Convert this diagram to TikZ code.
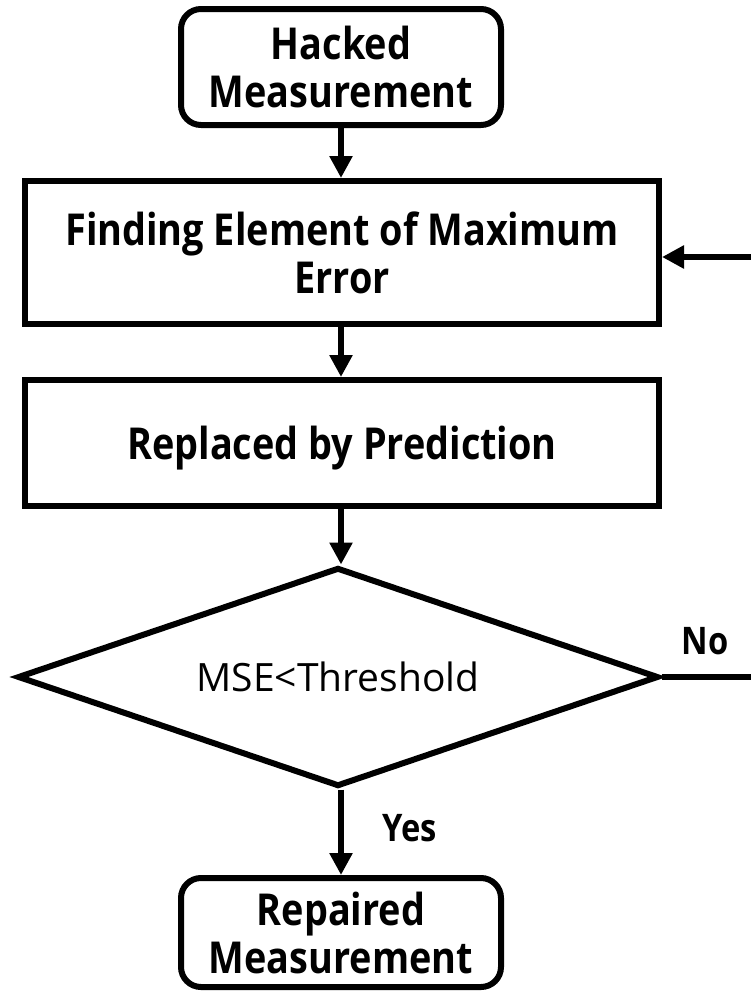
\documentclass[tikz,border=0pt]{standalone}
\usepackage{fontspec}
\setmainfont{Open Sans}
\newfontfamily\boxfont{Open Sans}[FakeStretch=0.86]
\usetikzlibrary{shapes.geometric,arrows.meta}
\tikzset{
  flow/.style={line width=6pt, draw=black},
  term/.style={flow, rounded corners=20pt, align=center, text depth=0pt, font=\boxfont\bfseries\fontsize{44}{48}\selectfont, inner sep=0pt},
  proc/.style={flow, align=center, text depth=0pt, font=\boxfont\bfseries\fontsize{44}{48}\selectfont, inner sep=0pt},
  decide/.style={flow, diamond, aspect=2.93, inner sep=0pt, font=\fontsize{39}{44}\selectfont},
  arr/.style={line width=6pt, -{Triangle[width=22pt,length=22pt]}},
  lbl/.style={font=\boxfont\bfseries\fontsize{38}{44}\selectfont, inner sep=0pt}
}
\begin{document}
\begin{tikzpicture}[x=1pt,y=-1pt]
  \useasboundingbox (0,0) rectangle (751,994);
  % flow chart boxes
  \node[term, minimum width=320pt, minimum height=116pt] (hacked) at (341,67) {Hacked\\Measurement};
  \node[proc, minimum width=634pt, minimum height=143pt] (find) at (342,252.5) {Finding Element of Maximum\\Error};
  \node[proc, minimum width=634pt, minimum height=126pt] (repl) at (342,443) {Replaced by Prediction};
  \node[decide, minimum width=641pt, minimum height=219pt] (mse) at (338,677) {MSE<Threshold};
  \node[term, minimum width=320pt, minimum height=109pt] (repaired) at (341,932.5) {Repaired\\Measurement};
  % loop back from the decision, leaving the page on the right
  \coordinate (loopin) at (760,257);
  \coordinate (loopout) at (760,677);
  \draw[arr] (hacked.south) -- (find.north -| hacked.south);
  \draw[arr] (find.south -| hacked.south) -- (repl.north -| hacked.south);
  \draw[arr] (repl.south -| hacked.south) -- (mse.north -| hacked.south);
  \draw[arr] (mse.south -| hacked.south) -- (repaired.north);
  \draw[arr] (loopin) -- (find.east |- loopin);
  \draw[flow] (mse.east) -- (loopout);
  \node[lbl] (no) at (705,641) {No};
  \node[lbl] (yes) at (410,828) {Yes};
\end{tikzpicture}
\end{document}
